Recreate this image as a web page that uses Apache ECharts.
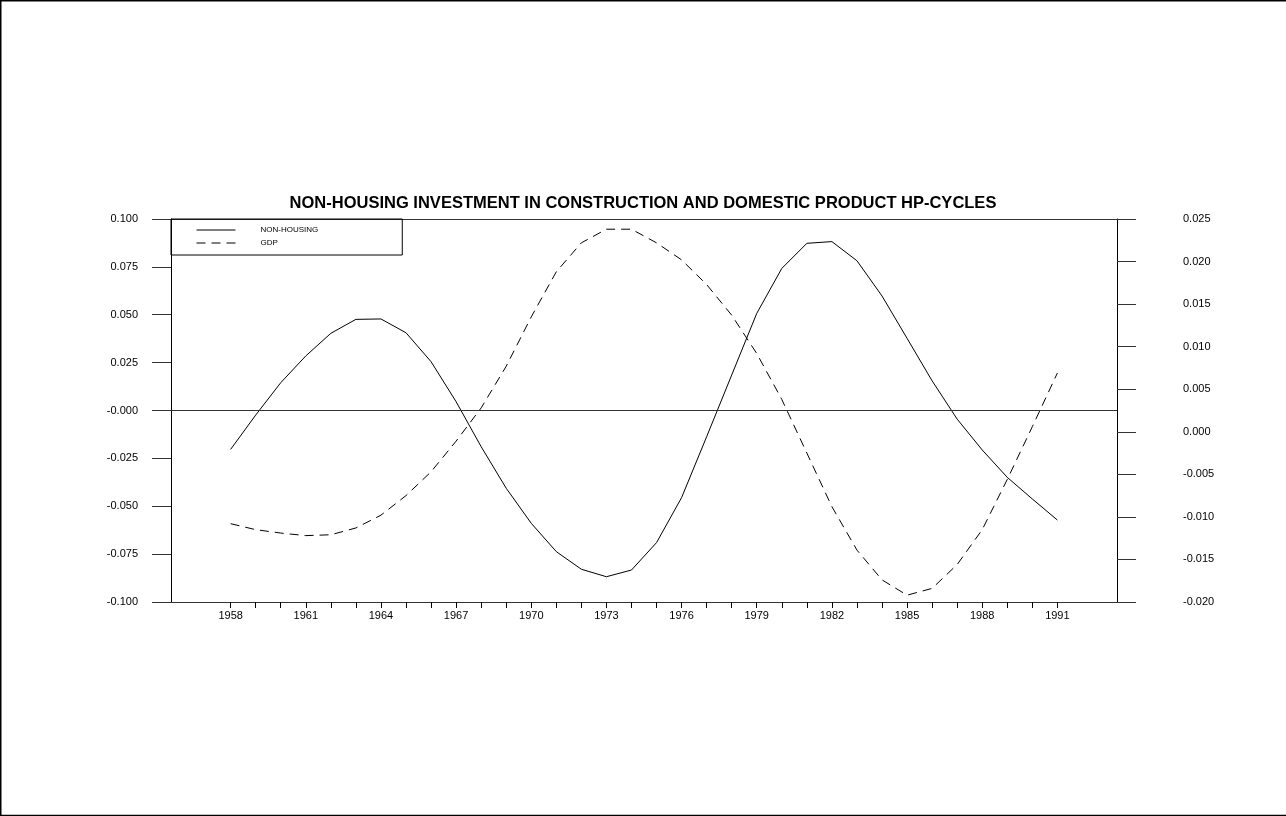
<!DOCTYPE html>
<html>
<head>
<meta charset="utf-8">
<script src="https://cdn.jsdelivr.net/npm/echarts@6/dist/echarts.min.js"></script>
<style>
html,body{margin:0;padding:0;background:#fff;}
#chart{width:1286px;height:816px;}
</style>
</head>
<body>
<div id="chart"></div>
<script>
// ---- data ----
const years = [1958,1959,1960,1961,1962,1963,1964,1965,1966,1967,1968,1969,1970,1971,1972,1973,1974,1975,1976,1977,1978,1979,1980,1981,1982,1983,1984,1985,1986,1987,1988,1989,1990,1991];
const nonHousing = [-0.0203,-0.0024,0.0145,0.0285,0.0403,0.0476,0.0478,0.0406,0.0255,0.0046,-0.0189,-0.0406,-0.0589,-0.0737,-0.0829,-0.0868,-0.0833,-0.0690,-0.0455,-0.0137,0.0185,0.0507,0.0742,0.0873,0.0882,0.0782,0.0598,0.0377,0.0155,-0.0045,-0.0206,-0.0349,-0.0462,-0.0572];
const gdp = [-0.0108,-0.0115,-0.0119,-0.0122,-0.0121,-0.0113,-0.0098,-0.0075,-0.0047,-0.0011,0.0028,0.0077,0.0135,0.0188,0.0222,0.0238,0.0238,0.0222,0.0202,0.0173,0.0137,0.0092,0.0038,-0.0025,-0.0088,-0.0139,-0.0174,-0.0192,-0.0184,-0.0156,-0.0115,-0.0056,0.0006,0.0069];
const xLabelYears = [1958,1961,1964,1967,1970,1973,1976,1979,1982,1985,1988,1991];
const leftTickLabels = ['-0.100','-0.075','-0.050','-0.025','-0.000','0.025','0.050','0.075','0.100'];
const rightTickLabels = ['-0.020','-0.015','-0.010','-0.005','0.000','0.005','0.010','0.015','0.020','0.025'];
const titleText = 'NON-HOUSING INVESTMENT IN CONSTRUCTION AND DOMESTIC PRODUCT HP-CYCLES';
const seriesNames = ['NON-HOUSING','GDP'];

const FONT = "'Liberation Sans', Arial, sans-serif";
const chart = echarts.init(document.getElementById('chart'), null, {renderer:'canvas'});

const pair = (xs, ys) => xs.map((x, i) => [x, ys[i]]);

chart.setOption({
  animation: false,
  backgroundColor: '#fff',
  title: {
    text: titleText,
    left: 'center',
    top: 190,
    textStyle: {fontFamily: FONT, fontWeight: 'bold', fontSize: 16.5, color: '#000'}
  },
  graphic: [
    {type:'line', shape:{x1:0.5,y1:0,x2:0.5,y2:816}, style:{stroke:'#000', lineWidth:2}},
    {type:'line', shape:{x1:0,y1:0.5,x2:1286,y2:0.5}, style:{stroke:'#000', lineWidth:2}},
    {type:'line', shape:{x1:0,y1:815.5,x2:1286,y2:815.5}, style:{stroke:'#000', lineWidth:1.5}}
  ],
  legend: {
    orient: 'vertical',
    left: 171,
    top: 219,
    padding: [7, 84, 8, 25],
    itemWidth: 39,
    itemHeight: 8,
    itemGap: 5,
    borderColor: '#000',
    borderWidth: 1,
    borderRadius: 0,
    data: seriesNames,
    itemStyle: {opacity: 0},
    lineStyle: {width: 1},
    textStyle: {fontFamily: FONT, fontSize: 8, color: '#000', padding: [0,0,0,20]}
  },
  grid: {left: 171, right: 169, top: 219, bottom: 214, containLabel: false},
  xAxis: [
    {
      type: 'value',
      min: 1955.62,
      max: 1993.38,
      position: 'bottom',
      axisLine: {show: true, onZero: false, lineStyle: {color: '#333', width: 1}},
      axisTick: {show: true, inside: false, length: 6, customValues: years, lineStyle: {color: '#000'}},
      axisLabel: {show: true, margin: 8, customValues: xLabelYears, formatter: v => String(Math.round(v)), fontFamily: FONT, fontSize: 11, color: '#000'},
      splitLine: {show: false}
    },
    {
      type: 'value',
      min: 1955.62,
      max: 1993.38,
      position: 'top',
      axisLine: {show: true, onZero: false, lineStyle: {color: '#333', width: 1}},
      axisTick: {show: false},
      axisLabel: {show: false},
      splitLine: {show: false}
    }
  ],
  yAxis: [
    {
      type: 'value',
      position: 'left',
      min: -0.1,
      max: 0.1,
      interval: 0.025,
      axisLine: {show: true, onZero: false, lineStyle: {color: '#000', width: 1}},
      axisTick: {show: true, inside: false, length: 19, lineStyle: {color: '#333'}},
      axisLabel: {margin: 33, formatter: (v, i) => leftTickLabels[i], fontFamily: FONT, fontSize: 11, color: '#000'},
      splitLine: {show: false}
    },
    {
      type: 'value',
      position: 'right',
      min: -0.02,
      max: 0.025,
      interval: 0.005,
      axisLine: {show: true, onZero: false, lineStyle: {color: '#000', width: 1}},
      axisTick: {show: true, inside: false, length: 19, lineStyle: {color: '#333'}},
      axisLabel: {margin: 66, formatter: (v, i) => rightTickLabels[i], fontFamily: FONT, fontSize: 11, color: '#000'},
      splitLine: {show: false}
    }
  ],
  series: [
    {
      name: seriesNames[0],
      type: 'line',
      xAxisIndex: 0,
      yAxisIndex: 0,
      data: pair(years, nonHousing),
      symbol: 'none',
      lineStyle: {color: '#000', width: 1, type: 'solid'},
      itemStyle: {color: '#000'},
      markLine: {
        silent: true,
        symbol: ['none','none'],
        label: {show: false},
        lineStyle: {color: '#333', width: 1, type: 'solid'},
        data: [{yAxis: 0}]
      }
    },
    {
      name: seriesNames[1],
      type: 'line',
      xAxisIndex: 0,
      yAxisIndex: 1,
      data: pair(years, gdp),
      symbol: 'none',
      lineStyle: {color: '#000', width: 1, type: [9, 6]},
      itemStyle: {color: '#000'}
    }
  ]
});
</script>
</body>
</html>
